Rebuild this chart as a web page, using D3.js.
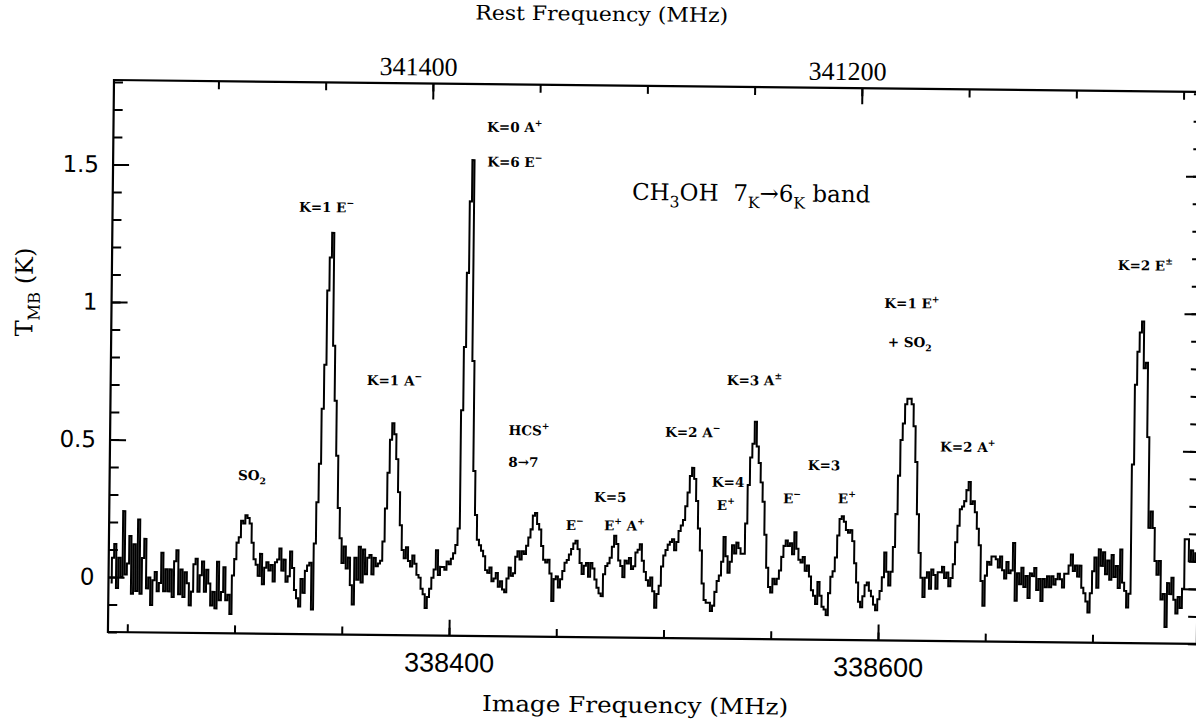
<!DOCTYPE html>
<html><head><meta charset="utf-8">
<script src="https://cdn.jsdelivr.net/npm/d3@7"></script>
<style>body{margin:0;background:#fff}svg{display:block}</style>
</head><body>
<svg id="chart" width="1196" height="724"></svg>
<script>
// ---------------- data ----------------
const channelStart = 338242;   // image frequency of first channel (MHz)
const channelWidth = 1;        // MHz per channel
const tmb = [
-0.02,0.07,0.12,-0.04,0.07,0.00,0.24,0.01,0.05,0.15,
-0.06,0.12,-0.05,0.21,-0.06,0.07,0.14,-0.04,0.00,-0.10,
-0.01,0.02,-0.05,-0.02,0.09,-0.05,0.03,-0.05,0.03,-0.07,
0.06,0.10,-0.06,0.03,-0.07,0.02,-0.02,-0.10,-0.05,0.05,
0.07,-0.05,0.01,0.06,-0.05,0.03,-0.02,-0.10,-0.05,-0.11,
0.06,-0.08,-0.05,0.04,-0.08,-0.06,-0.13,0.01,0.07,0.13,
0.15,0.21,0.20,0.23,0.22,0.20,0.13,0.07,0.05,0.01,
0.09,-0.02,0.04,0.06,0.03,0.05,-0.01,0.06,0.07,0.11,
0.03,0.07,-0.01,0.01,0.10,0.04,-0.04,-0.07,-0.10,0.00,
-0.05,0.03,0.05,0.06,-0.11,0.13,0.28,0.42,0.62,0.78,
1.05,1.17,1.26,0.85,0.65,0.45,0.26,0.15,0.06,0.12,
0.04,0.08,-0.02,-0.09,0.08,0.00,0.12,-0.01,0.11,0.02,
0.08,0.09,0.02,0.08,0.05,0.06,0.07,0.14,0.26,0.39,
0.51,0.57,0.53,0.44,0.32,0.20,0.11,0.08,0.12,0.07,
0.05,0.09,0.06,0.02,0.01,-0.03,-0.05,-0.10,-0.06,-0.03,
0.01,0.04,0.11,0.02,0.05,0.05,0.04,0.07,0.06,0.08,
0.10,0.13,0.19,0.62,0.85,1.12,1.38,1.53,0.80,0.40,
0.24,0.15,0.13,0.11,0.09,0.04,0.03,0.05,0.00,0.01,
0.03,-0.02,0.00,-0.03,-0.04,0.01,0.05,0.02,0.03,0.09,
0.11,0.08,0.11,0.10,0.13,0.16,0.19,0.24,0.25,0.21,
0.19,0.13,0.08,0.07,0.08,0.03,-0.07,0.01,0.02,-0.02,
0.01,0.04,0.07,0.08,0.10,0.12,0.14,0.15,0.12,0.07,
0.03,0.06,0.07,0.02,0.07,0.05,0.01,-0.02,-0.04,-0.05,
0.03,0.06,0.07,0.09,0.13,0.17,0.14,0.08,0.06,0.02,
0.08,0.07,0.09,0.05,0.06,0.11,0.12,0.14,0.08,0.04,
0.01,-0.01,0.02,-0.03,-0.09,-0.04,-0.01,0.06,0.10,0.12,
0.14,0.15,0.16,0.12,0.15,0.19,0.21,0.23,0.28,0.33,
0.39,0.42,0.38,0.30,0.20,0.12,0.00,-0.06,-0.07,-0.07,
-0.10,-0.08,-0.03,0.01,0.03,0.08,0.17,0.10,0.04,0.08,
0.14,0.11,0.15,0.13,0.11,0.11,0.22,0.36,0.46,0.51,
0.59,0.50,0.44,0.37,0.30,0.18,0.06,-0.01,-0.03,0.02,
0.00,0.02,0.05,0.10,0.14,0.16,0.14,0.15,0.11,0.19,
0.13,0.09,0.08,0.10,0.05,0.07,0.03,-0.02,-0.04,-0.07,
0.01,-0.04,-0.08,-0.09,-0.11,-0.03,0.03,0.05,0.10,0.18,
0.24,0.25,0.23,0.20,0.19,0.20,0.16,0.08,0.01,-0.06,
-0.08,-0.04,0.00,0.01,-0.02,-0.04,-0.07,-0.09,-0.05,-0.02,
0.03,0.12,0.05,0.00,0.05,0.14,0.26,0.40,0.53,0.59,
0.66,0.68,0.68,0.66,0.58,0.45,0.26,0.12,0.03,-0.04,
0.03,0.05,-0.01,0.06,0.04,-0.01,0.05,0.05,0.07,0.03,
0.05,0.00,0.03,0.08,0.16,0.22,0.28,0.29,0.31,0.35,
0.38,0.30,0.31,0.27,0.21,0.15,0.02,-0.07,0.04,0.09,
0.08,0.11,0.11,0.10,0.07,0.11,0.06,0.03,0.09,0.05,
0.06,0.16,-0.05,0.05,0.01,0.07,0.00,0.04,-0.04,0.05,
0.04,0.07,-0.01,0.03,-0.05,0.03,0.00,0.04,0.00,0.04,
0.01,0.03,0.05,0.03,0.00,0.05,0.05,0.08,0.12,0.06,
0.08,0.04,0.08,0.00,-0.02,-0.05,-0.09,-0.02,0.06,0.11,
0.00,0.14,0.08,0.13,0.05,0.10,0.03,0.12,0.04,0.08,
0.00,0.14,0.02,-0.01,-0.07,-0.02,0.45,0.74,0.86,0.93,
0.97,0.80,0.82,0.55,0.22,0.28,0.22,0.10,0.05,0.10,
-0.04,-0.02,-0.14,0.02,-0.02,0.04,-0.04,-0.09,-0.03,-0.07,
0.00,0.18,0.18,0.10,0.14,0.10,0.13,0.10
];
const imageDomain = [338241, 338748.7];   // MHz, bottom axis limits
const tmbDomain = [-0.2, 1.807];           // K
const restPlusImage = 679789.7;            // rest + image frequency (MHz)
const imageTickLabels = [338400, 338600];
const restTickLabels = [341400, 341200];
const yTickLabels = [0, 0.5, 1, 1.5];
const annotations = [
  {f:338300.9, t:0.358, parts:[["SO"],["2","sub"]]},
  {f:338327.9, t:1.335, parts:[["K=1 E"],["\u2212","sup"]]},
  {f:338360.4, t:0.708, parts:[["K=1 A"],["\u2212","sup"]]},
  {f:338415.2, t:1.634, parts:[["K=0 A"],["+","sup"]]},
  {f:338415.4, t:1.507, parts:[["K=6 E"],["\u2212","sup"]]},
  {f:338426.7, t:0.532, parts:[["HCS"],["+","sup"]]},
  {f:338426.8, t:0.417, parts:[["8\u21927"]]},
  {f:338466.9, t:0.293, parts:[["K=5"]]},
  {f:338453.9, t:0.189, parts:[["E"],["\u2212","sup"]]},
  {f:338471.7, t:0.190, parts:[["E"],["+","sup"],[" A"],["+","sup"]]},
  {f:338499.7, t:0.532, parts:[["K=2 A"],["\u2212","sup"]]},
  {f:338521.8, t:0.352, parts:[["K=4"]]},
  {f:338524.2, t:0.268, parts:[["E"],["+","sup"]]},
  {f:338528.2, t:0.723, parts:[["K=3 A"],["\u00b1","sup"]]},
  {f:338555.0, t:0.295, parts:[["E"],["\u2212","sup"]]},
  {f:338566.4, t:0.417, parts:[["K=3"]]},
  {f:338580.6, t:0.297, parts:[["E"],["+","sup"]]},
  {f:338601.3, t:1.009, parts:[["K=1 E"],["+","sup"]]},
  {f:338603.1, t:0.868, parts:[["+ SO"],["2","sub"]]},
  {f:338628.0, t:0.489, parts:[["K=2 A"],["+","sup"]]},
  {f:338709.9, t:1.156, parts:[["K=2 E"],["\u00b1","sup"]]}
];
const bandTitle = {f:338483.1, t:1.392, parts:[["CH"],["3","sub"],["OH  7"],["K","sub"],["\u2192","norm"],["6"],["K","sub"],[" band"]]};

// ---------------- layout ----------------
const L = 114, R = 1203, TOP = 80, BOT = 632, tilt = 0.63;
const svg = d3.select("#chart");
const g = svg.append("g").attr("transform", `rotate(${tilt},${L},${TOP})`);

const x = d3.scaleLinear().domain(imageDomain).range([L, R]);
const xr = d3.scaleLinear().domain(imageDomain.map(v => restPlusImage - v)).range([L, R]);
const y = d3.scaleLinear().domain(tmbDomain).range([BOT, TOP]);

function styleAxis(sel, font, size) {
  sel.select(".domain").remove();
  sel.selectAll(".tick line").attr("stroke", "#000").attr("stroke-width", 2);
  sel.selectAll(".tick text").attr("fill", "#000").attr("font-family", font).attr("font-size", size);
}

// minor ticks
g.append("g").attr("transform", `translate(0,${BOT})`)
  .call(d3.axisBottom(x).tickValues(x.ticks(10)).tickSize(-8).tickFormat(""))
  .call(s => styleAxis(s));
g.append("g").attr("transform", `translate(0,${TOP})`)
  .call(d3.axisTop(xr).tickValues(xr.ticks(10)).tickSize(-8).tickFormat(""))
  .call(s => styleAxis(s));
g.append("g").attr("transform", `translate(${L},0)`)
  .call(d3.axisLeft(y).tickValues(y.ticks(20)).tickSize(-9).tickFormat(""))
  .call(s => styleAxis(s));
g.append("g").attr("transform", `translate(${R},0)`)
  .call(d3.axisRight(y).tickValues(y.ticks(20)).tickSize(-9).tickFormat(""))
  .call(s => styleAxis(s));

// major ticks + labels
g.append("g").attr("transform", `translate(0,${BOT})`)
  .call(d3.axisBottom(x).tickValues(imageTickLabels).tickSize(-16).tickPadding(17).tickFormat(d3.format("d")))
  .call(s => styleAxis(s, "'Liberation Sans', Arial, sans-serif", 27));
g.append("g").attr("transform", `translate(0,${TOP})`)
  .call(d3.axisTop(xr).tickValues(restTickLabels).tickSize(-16).tickPadding(8).tickFormat(d3.format("d")))
  .call(s => styleAxis(s, "'Liberation Serif', serif", 26))
  .call(s => s.selectAll(".tick text").attr("dx", -15));
g.append("g").attr("transform", `translate(${L},0)`)
  .call(d3.axisLeft(y).tickValues(yTickLabels).tickSize(-16).tickPadding(14).tickFormat(d => String(d)))
  .call(s => styleAxis(s, "'DejaVu Sans', sans-serif", 23));
g.append("g").attr("transform", `translate(${R},0)`)
  .call(d3.axisRight(y).tickValues(yTickLabels).tickSize(-16).tickFormat(""))
  .call(s => styleAxis(s));

// frame
g.append("rect").attr("x", L).attr("y", TOP).attr("width", R - L).attr("height", BOT - TOP)
  .attr("fill", "none").attr("stroke", "#000").attr("stroke-width", 2.2);

// spectrum
g.append("clipPath").attr("id", "plotclip").append("rect")
  .attr("x", L).attr("y", TOP).attr("width", R - L).attr("height", BOT - TOP);
const spec = tmb.map((t, i) => ({f: channelStart + i * channelWidth, t}));
g.append("path").datum(spec)
  .attr("clip-path", "url(#plotclip)")
  .attr("fill", "none").attr("stroke", "#000").attr("stroke-width", 2).attr("stroke-linejoin", "miter")
  .attr("d", d3.line().curve(d3.curveStep).x(d => x(d.f)).y(d => y(d.t)));

// rich text helper
function rich(sel, parts, size) {
  let shift = 0;
  parts.forEach(([txt, kind]) => {
    const target = kind === "sup" ? -0.45 * size : kind === "sub" ? 0.3 * size : 0;
    const ts = sel.append("tspan").text(txt).attr("dy", target - shift);
    if (kind === "sup" || kind === "sub") ts.attr("font-size", size * 0.68);
    shift = target;
  });
}

// peak annotations
annotations.forEach(a => {
  const t = g.append("text").attr("x", x(a.f)).attr("y", y(a.t))
    .attr("font-family", "'DejaVu Serif', serif").attr("font-weight", "bold")
    .attr("font-size", 13.5).attr("fill", "#000").attr("style", "white-space:pre");
  rich(t, a.parts, 13.5);
});

// band title
{
  const t = g.append("text").attr("x", x(bandTitle.f)).attr("y", y(bandTitle.t))
    .attr("font-family", "'DejaVu Serif', serif").attr("font-size", 23).attr("fill", "#000")
    .attr("style", "white-space:pre");
  rich(t, bandTitle.parts, 23);
}

// axis titles
g.append("text").attr("x", 601).attr("y", 15.5).attr("text-anchor", "middle")
  .attr("font-family", "'DejaVu Serif', serif").attr("font-size", 20)
  .attr("textLength", 253).attr("lengthAdjust", "spacingAndGlyphs")
  .text("Rest Frequency (MHz)");
g.append("text").attr("x", 642).attr("y", 707).attr("text-anchor", "middle")
  .attr("font-family", "'DejaVu Serif', serif").attr("font-size", 22)
  .attr("textLength", 306).attr("lengthAdjust", "spacingAndGlyphs")
  .text("Image Frequency (MHz)");
{
  const t = g.append("text").attr("transform", "translate(35,293) rotate(-90)")
    .attr("text-anchor", "middle").attr("font-family", "'DejaVu Serif', serif")
    .attr("font-size", 24).attr("style", "white-space:pre");
  rich(t, [["T"], ["MB", "sub"], [" (K)"]], 24);
}
</script>
</body></html>
